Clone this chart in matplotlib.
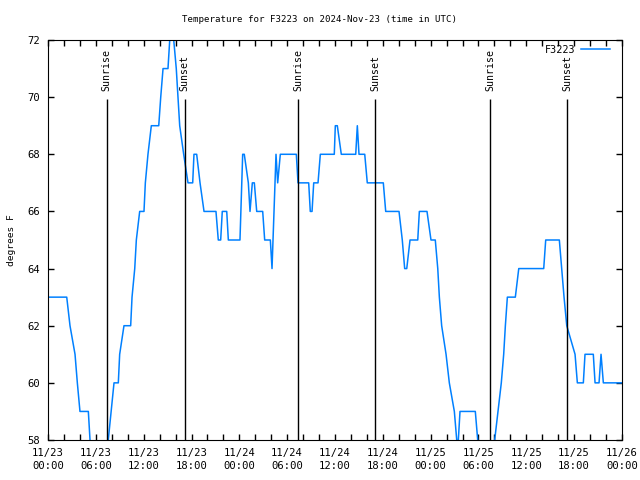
import matplotlib
matplotlib.use('Agg')
import matplotlib.pyplot as plt
import numpy as np

# hours since 2024-11-23 00:00 UTC, and temperature (deg F)
hours = [0.00, 2.35, 2.76, 3.39, 3.68, 4.01, 5.06, 5.27, 5.45, 7.38, 7.56, 8.28, 8.82,
         8.99, 9.53, 10.37, 10.54, 10.88, 11.08, 11.50, 12.04, 12.21, 12.54, 12.96,
         13.89, 14.14, 14.43, 15.05, 15.27, 15.43, 15.62, 15.77, 16.09, 16.31, 16.52,
         17.02, 17.56, 18.15, 18.31, 18.65, 19.07, 19.57, 21.07, 21.36, 21.66, 21.86,
         22.42, 22.62, 24.08, 24.42, 24.62, 25.13, 25.34, 25.63, 25.88, 26.18, 26.93,
         27.18, 27.89, 28.10, 28.60, 28.81, 29.14, 31.15, 31.36, 32.70, 32.90, 33.12,
         33.33, 33.87, 34.16, 35.91, 36.04, 36.29, 36.79, 38.60, 38.80, 39.01, 39.73,
         40.05, 42.06, 42.36, 44.03, 44.44, 44.74, 45.00, 45.41, 46.38, 46.58, 47.54,
         48.04, 48.58, 48.89, 49.09, 49.38, 49.93, 50.34, 50.97, 51.27, 51.37, 51.47,
         51.68, 53.60, 53.90, 54.10, 55.80, 56.03, 56.45, 56.86, 57.16, 57.37, 57.62,
         58.62, 59.05, 62.18, 62.43, 64.14, 64.44, 64.73, 65.07, 66.11, 66.40, 67.15,
         67.36, 68.40, 68.62, 69.12, 69.37, 69.66, 72.00]
temps = [63, 63, 62, 61, 60, 59, 59, 58, 57, 57, 58, 60, 60,
         61, 62, 62, 63, 64, 65, 66, 66, 67, 68, 69,
         69, 70, 71, 71, 72, 73, 73, 72, 71, 70, 69,
         68, 67, 67, 68, 68, 67, 66, 66, 65, 65, 66,
         66, 65, 65, 68, 68, 67, 66, 67, 67, 66, 66,
         65, 65, 64, 68, 67, 68, 68, 67, 67, 66, 66,
         67, 67, 68, 68, 69, 69, 68, 68, 69, 68, 68,
         67, 67, 66, 66, 65, 64, 64, 65, 65, 66, 66,
         65, 65, 64, 63, 62, 61, 60, 59, 58, 57, 58,
         59, 59, 58, 57, 57, 58, 59, 60, 61, 62, 63,
         63, 64, 64, 65, 65, 64, 63, 62, 61, 60, 60,
         61, 61, 60, 60, 61, 60, 60]

sun_times = [7.36, 17.15, 31.36, 41.02, 55.48, 65.14]
sun_labels = ['Sunrise', 'Sunset', 'Sunrise', 'Sunset', 'Sunrise', 'Sunset']

xtick_pos = list(range(0, 73, 6))
xtick_labels = ['11/23\n00:00', '11/23\n06:00', '11/23\n12:00', '11/23\n18:00',
                '11/24\n00:00', '11/24\n06:00', '11/24\n12:00', '11/24\n18:00',
                '11/25\n00:00', '11/25\n06:00', '11/25\n12:00', '11/25\n18:00',
                '11/26\n00:00']

plt.rcParams['font.family'] = 'DejaVu Sans Mono'
plt.rcParams['font.size'] = 7.6

fig = plt.figure(figsize=(6.4, 4.8), dpi=100)
ax = fig.add_axes([48/640, 40/480, 574/640, 400/480])

ax.plot(hours, temps, color='#0080ff', lw=1.1, label='F3223')

ax.vlines(sun_times, 58, 69.95, color='black', lw=1)
for t, s in zip(sun_times, sun_labels):
    ax.text(t, 70.2, s, rotation=90, ha='center', va='bottom', fontsize=7.1)

ax.set_xlim(0, 72)
ax.set_ylim(58, 72)
ax.set_xticks(xtick_pos)
ax.set_xticklabels(xtick_labels, linespacing=1.35)
ax.set_xticks(np.arange(0, 73, 2), minor=True)
ax.set_yticks(range(58, 73, 2))
ax.tick_params(which='both', direction='in', top=True, right=True, length=4, width=1)
ax.tick_params(axis='x', pad=6)
ax.tick_params(axis='y', pad=6)

ax.set_ylabel('degrees F', labelpad=8, fontsize=6.8)
# title is centred on the figure, not on the axes
fig.text(0.5, 1 - 19/480, 'Temperature for F3223 on 2024-Nov-23 (time in UTC)',
         fontsize=6.6, ha='center', va='center')

ax.legend(loc='upper right', bbox_to_anchor=(0.979, 0.988), frameon=False,
          markerfirst=False, handlelength=2.9, borderaxespad=0, borderpad=0,
          handletextpad=0.5, fontsize=7.3)

fig.savefig('out.png', dpi=100)
